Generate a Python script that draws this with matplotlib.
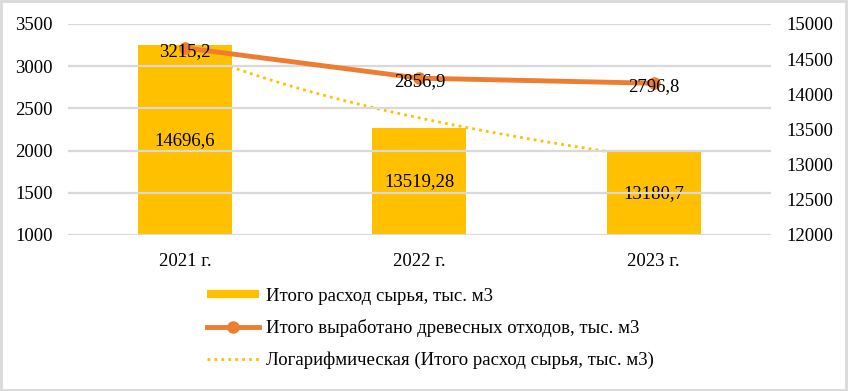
import numpy as np
import matplotlib.pyplot as plt
from matplotlib.lines import Line2D
from matplotlib.patches import Rectangle

plt.rcParams['font.family'] = ['Liberation Serif', 'DejaVu Serif']

years = ['2021 г.', '2022 г.', '2023 г.']
raw_material = [14696.6, 13519.28, 13180.7]
raw_labels = ['14696,6', '13519,28', '13180,7']
waste = [3215.2, 2856.9, 2796.8]
waste_labels = ['3215,2', '2856,9', '2796,8']

bar_color = '#FFC000'
line_color = '#ED7D31'
grid_color = '#D9D9D9'
fs = 13.5

fig = plt.figure(figsize=(8.48, 3.91), dpi=100)
ax = fig.add_axes([0.080, 0.399, 0.829, 0.540])
ax2 = ax.twinx()

x = np.arange(len(years))

# bars on the secondary axis
ax2.bar(x, np.array(raw_material) - 12000, bottom=12000, width=0.4,
        color=bar_color, zorder=2)
for xi, v, lab in zip(x, raw_material, raw_labels):
    ax2.text(xi, (v + 12000) / 2, lab, ha='center', va='center', fontsize=fs, zorder=5)

# logarithmic trendline of the bar series
coef = np.polyfit(np.log(x + 1), raw_material, 1)
xt = np.linspace(0, 2, 100)
ax2.plot(xt, coef[0] * np.log(xt + 1) + coef[1], color=bar_color, lw=2,
         linestyle=(0, (1, 1.5)), zorder=3)

# line on the primary axis
ax.plot(x, waste, color=line_color, lw=3.5, marker='o', markersize=8, zorder=4)
for xi, v, lab in zip(x, waste, waste_labels):
    ax.text(xi, v - 40, lab, ha='center', va='center', fontsize=fs, zorder=5)

ax.set_ylim(1000, 3500)
ax.set_yticks(np.arange(1000, 3501, 500))
ax2.set_ylim(12000, 15000)
ax2.set_yticks(np.arange(12000, 15001, 500))
ax.set_xlim(-0.5, 2.5)
ax.set_xticks(x)
ax.set_xticklabels(years)

ax.set_zorder(ax2.get_zorder() + 1)
ax.patch.set_visible(False)

ax.grid(axis='y', color=grid_color, lw=1.6)
ax.set_axisbelow(True)
for a in (ax, ax2):
    for s in a.spines.values():
        s.set_visible(False)
    a.tick_params(length=0, labelsize=fs)
ax.tick_params(axis='y', pad=11)
ax.tick_params(axis='x', pad=13)
ax2.tick_params(axis='y', pad=11)

handles = [
    Line2D([], [], color=bar_color, lw=6, solid_capstyle='butt'),
    Line2D([], [], color=line_color, lw=3.5, marker='o', markersize=8),
    Line2D([], [], color=bar_color, lw=2, linestyle=(0, (1, 1.5))),
]
labels = [
    'Итого расход сырья, тыс. м3',
    'Итого выработано древесных отходов, тыс. м3',
    'Логарифмическая (Итого расход сырья, тыс. м3)',
]
fig.legend(handles, labels, loc='upper left', bbox_to_anchor=(0.244, 0.265),
           frameon=False, fontsize=fs, handlelength=2.8, handletextpad=0.35,
           labelspacing=0.78, borderaxespad=0, borderpad=0)

fig.patches.append(Rectangle((0.001, 0.002), 0.997, 0.995, transform=fig.transFigure,
                             fill=False, edgecolor=grid_color, lw=2))

fig.savefig('out.png', dpi=100)
